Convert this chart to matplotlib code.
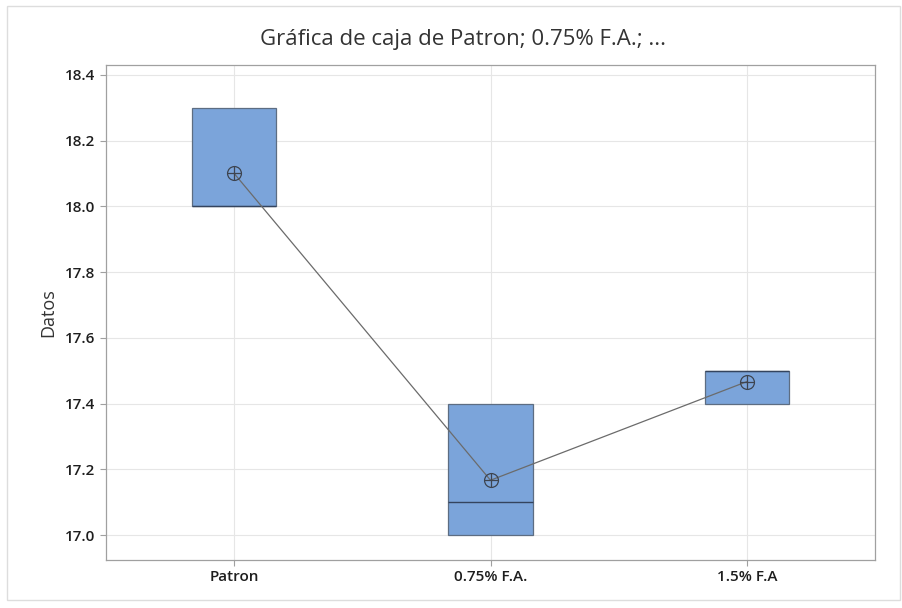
import numpy as np
import matplotlib
matplotlib.use("Agg")
import matplotlib.pyplot as plt
from matplotlib.patches import Rectangle

plt.rcParams['font.family'] = ['Open Sans', 'DejaVu Sans']

# datos
categorias = ['Patron', '0.75% F.A.', '1.5% F.A']
patron = [18.0, 18.0, 18.3]
fa_075 = [17.0, 17.1, 17.4]
fa_15 = [17.4, 17.5, 17.5]
datos = [patron, fa_075, fa_15]

# cuartiles estilo Minitab (posicion (n+1)p)
stats = []
for nombre, d in zip(categorias, datos):
    d = np.array(d)
    q1, med, q3 = np.percentile(d, [25, 50, 75], method='weibull')
    stats.append(dict(label=nombre, med=med, q1=q1, q3=q3,
                      whislo=d.min(), whishi=d.max(), fliers=[]))
medias = [np.mean(d) for d in datos]

fig = plt.figure(figsize=(9.02, 6.08), dpi=100)
ax = fig.add_axes([106/902, 1-560/608, (875-106)/902, (560-65)/608])

pos = np.arange(1, len(categorias)+1)
ax.bxp(stats, positions=pos, widths=0.33, patch_artist=True, showcaps=False,
       boxprops=dict(facecolor='#7BA4DA', edgecolor='#5d6d82', linewidth=0.9),
       medianprops=dict(color='#34445e', linewidth=1.0),
       whiskerprops=dict(color='#5d6d82', linewidth=0.9), zorder=3)

ax.plot(pos, medias, color='#6b6b6b', linewidth=0.9, zorder=4)
ax.plot(pos, medias, linestyle='none', marker='o', markersize=10,
        markerfacecolor='none', markeredgecolor='#3d4450', markeredgewidth=0.9, zorder=5)
ax.plot(pos, medias, linestyle='none', marker='+', markersize=10,
        markeredgecolor='#3d4450', markeredgewidth=0.9, zorder=5)

ax.set_xlim(0.5, 3.5)
ax.set_ylim(16.924, 18.43)
ax.set_yticks([17.0, 17.2, 17.4, 17.6, 17.8, 18.0, 18.2, 18.4])
ax.set_yticklabels(['17.0', '17.2', '17.4', '17.6', '17.8', '18.0', '18.2', '18.4'])
ax.set_xticks(pos)
ax.set_xticklabels(categorias)
ax.grid(True, color='#e6e6e6', linewidth=0.8, zorder=0)
ax.set_axisbelow(True)
for s in ax.spines.values():
    s.set_color('#a0a0a0')
    s.set_linewidth(0.9)
ax.tick_params(colors='#a0a0a0', labelcolor='#1e1e1e', labelsize=11, length=4)
for t in ax.get_xticklabels() + ax.get_yticklabels():
    t.set_fontweight('semibold')

ax.set_ylabel('Datos', fontsize=13, color='#333333', labelpad=6)
fig.text(463/902, 1-40/608, 'Gráfica de caja de Patron; 0.75% F.A.; ...',
         ha='center', va='center', fontsize=16, color='#333333')

# marco exterior
fig.patches.append(Rectangle((7/902, 1-600/608), (900-7)/902, (600-6)/608,
                             transform=fig.transFigure, fill=False,
                             edgecolor='#dddddd', linewidth=1))

fig.savefig('out.png', dpi=100)
